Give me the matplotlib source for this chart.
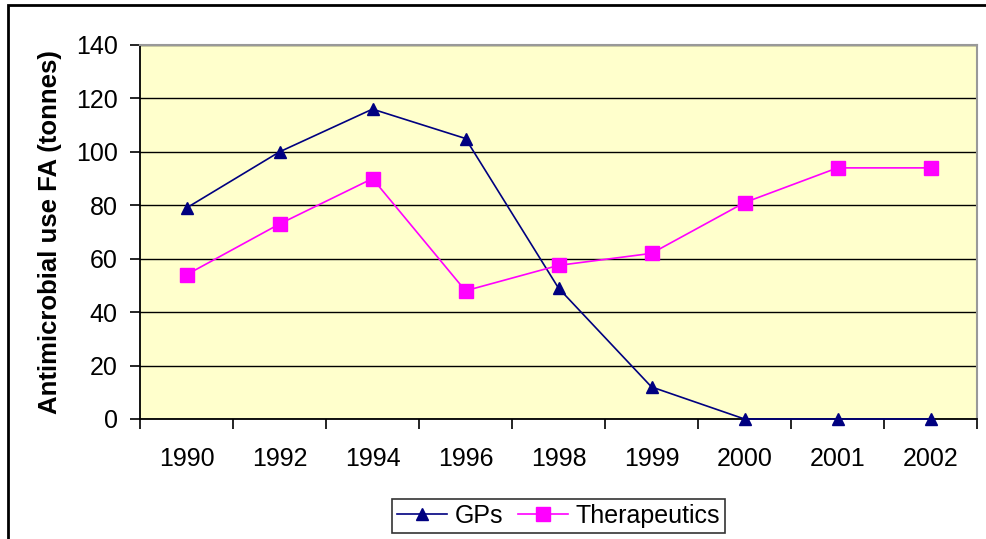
import matplotlib.pyplot as plt
from matplotlib.patches import Rectangle
import numpy as np

years = ["1990", "1992", "1994", "1996", "1998", "1999", "2000", "2001", "2002"]
gps = [79, 100, 116, 105, 49, 12, 0, 0, 0]
therapeutics = [54, 73, 90, 48, 57.5, 62, 81, 94, 94]

plt.rcParams["font.family"] = ["Liberation Sans", "DejaVu Sans"]

fig = plt.figure(figsize=(9.86, 5.39), dpi=100)
ax = fig.add_axes([140 / 986, 1 - 419 / 539, (977 - 140) / 986, (419 - 45) / 539])
ax.set_facecolor("#FFFFCC")

x = np.arange(len(years))
ax.plot(x, gps, color="#000080", marker="^", markersize=9, linewidth=1.2, label="GPs",
        zorder=3, clip_on=False)
ax.plot(x, therapeutics, color="#FF00FF", marker="s", markersize=10, linewidth=1.2,
        label="Therapeutics", zorder=3, clip_on=False)

ax.set_xlim(-0.5, len(years) - 0.5)
ax.set_ylim(0, 140)
ax.set_yticks(range(0, 141, 20))
ax.yaxis.grid(True, color="black", linewidth=1.0)
ax.set_axisbelow(True)

ax.set_xticks(x)
ax.set_xticklabels(years, fontsize=18)
ax.tick_params(axis="x", which="major", length=0, pad=20)
ax.set_xticks(np.arange(-0.5, len(years)), minor=True)
ax.tick_params(axis="x", which="minor", length=7, width=1.2, direction="out")
ax.tick_params(axis="y", labelsize=18, length=7, width=1.2, pad=9)

ax.spines["left"].set_color("black")
ax.spines["bottom"].set_color("black")
ax.spines["left"].set_linewidth(1.3)
ax.spines["bottom"].set_linewidth(1.3)
ax.spines["top"].set_color("#999999")
ax.spines["right"].set_color("#999999")
ax.spines["top"].set_linewidth(1.5)
ax.spines["right"].set_linewidth(1.5)

ax.set_ylabel("Antimicrobial use FA (tonnes)", fontsize=18.5, fontweight="bold", labelpad=10)

leg = ax.legend(loc="center", bbox_to_anchor=(0.5, -0.26), ncol=2, fontsize=18,
                frameon=True, fancybox=False, edgecolor="black", handlelength=2.0,
                columnspacing=0.6, handletextpad=0.3, borderpad=0.2, borderaxespad=0)
leg.get_frame().set_linewidth(1.2)

fig.patches.append(Rectangle((8 / 986, -0.1), 1.2, 1 - 5 / 539 + 0.1, transform=fig.transFigure,
                             fill=False, edgecolor="black", linewidth=2, zorder=0))

fig.savefig("out.png", dpi=100)
